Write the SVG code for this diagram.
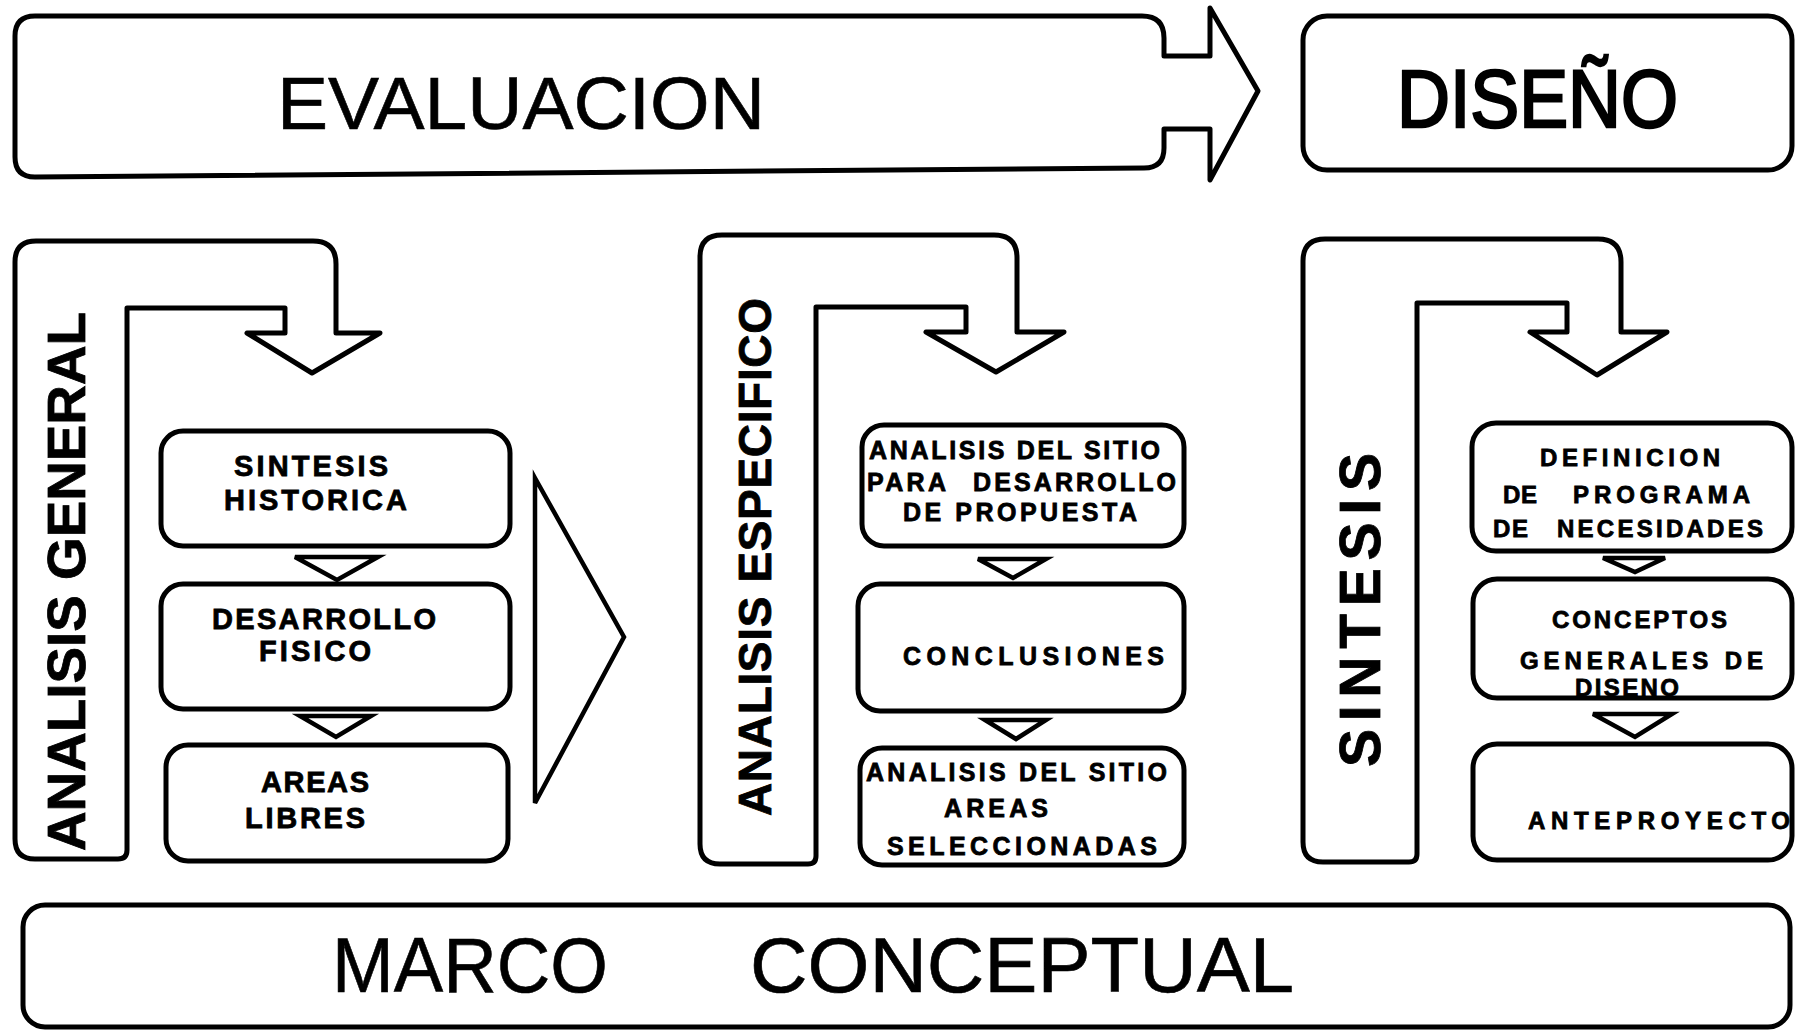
<svg xmlns="http://www.w3.org/2000/svg" width="1796" height="1031" viewBox="0 0 1796 1031">
<style>
.ln{fill:#fff;stroke:#000;stroke-width:5;stroke-linejoin:round}
.bx{fill:#fff;stroke:#000;stroke-width:5}
.ar{fill:#fff;stroke:#000;stroke-width:4.5;stroke-linejoin:miter}
.big{font-family:"Liberation Sans",Arial,Helvetica,sans-serif;font-weight:normal;fill:#000}
.b{font-family:"Liberation Sans",Arial,Helvetica,sans-serif;font-weight:bold;fill:#000;stroke:#000;stroke-width:0.8}
.c1{font-size:29px}
.c2{font-size:25px}
.c3{font-size:24px}
</style>
<rect x="0" y="0" width="1796" height="1031" fill="#fff"/>

<g id="evaluacion">
<path class="ln" d="M 35 16 H 1142 Q 1164 16 1164 38 V 56 H 1210 V 8 L 1258 91 L 1210 180 V 129 H 1164 V 148 Q 1164 168 1144 168 L 35 177 Q 15 177 15 157 V 36 Q 15 16 35 16 Z"/>
<text class="big" x="277" y="129" font-size="75" stroke="#000" stroke-width="0.6" textLength="488" lengthAdjust="spacingAndGlyphs">EVALUACION</text>
</g>

<g id="diseno">
<rect class="bx" x="1303" y="16" width="489" height="154" rx="24"/>
<text class="big" x="1397" y="127" font-size="81" stroke="#000" stroke-width="2.5" textLength="281" lengthAdjust="spacingAndGlyphs">DISEÑO</text>
</g>

<g id="analisis-general">
<path class="ln" d="M 15 262 Q 15 241 36 241 H 313 Q 336 241 336 264 V 333 H 380 L 312 373 L 247 333 H 285 V 308 H 127 V 850 Q 127 859 118 859 H 35 Q 15 859 15 839 Z"/>
<text class="b" font-size="53" transform="translate(85,851) rotate(-90)" textLength="539" lengthAdjust="spacingAndGlyphs">ANALISIS GENERAL</text>
</g>

<g id="sintesis-historica">
<rect class="bx" x="161" y="431" width="349" height="115" rx="22"/>
<text class="b c1" x="234" y="476" textLength="154" lengthAdjust="spacing">SINTESIS</text>
<text class="b c1" x="224" y="510" textLength="183" lengthAdjust="spacing">HISTORICA</text>
</g>
<g id="desarrollo-fisico">
<rect class="bx" x="161" y="584" width="349" height="125" rx="22"/>
<text class="b c1" x="212" y="629" textLength="224" lengthAdjust="spacing">DESARROLLO</text>
<text class="b c1" x="259" y="661" textLength="112" lengthAdjust="spacing">FISICO</text>
</g>
<g id="areas-libres">
<rect class="bx" x="166" y="745" width="342" height="116" rx="22"/>
<text class="b c1" x="261" y="792" textLength="108" lengthAdjust="spacing">AREAS</text>
<text class="b c1" x="245" y="828" textLength="120" lengthAdjust="spacing">LIBRES</text>
</g>

<g id="analisis-especifico">
<path class="ln" d="M 700 257 Q 700 235 722 235 H 994 Q 1017 235 1017 258 V 332 H 1064 L 996 372 L 926 332 H 966 V 307 H 816 V 856 Q 816 864 808 864 H 720 Q 700 864 700 844 Z"/>
<text class="b" font-size="46" stroke-width="1.2" transform="translate(771,816) rotate(-90)" textLength="518" lengthAdjust="spacing">ANALISIS ESPECIFICO</text>
</g>

<g id="analisis-sitio-propuesta">
<rect class="bx" x="862" y="425" width="322" height="121" rx="22"/>
<text class="b c2" x="869" y="459" textLength="291" lengthAdjust="spacing">ANALISIS DEL SITIO</text>
<text class="b c2" x="867" y="491" textLength="79" lengthAdjust="spacing">PARA</text>
<text class="b c2" x="973" y="491" textLength="203" lengthAdjust="spacing">DESARROLLO</text>
<text class="b c2" x="903" y="521" textLength="234" lengthAdjust="spacing">DE PROPUESTA</text>
</g>
<g id="conclusiones">
<rect class="bx" x="858" y="584" width="326" height="127" rx="22"/>
<text class="b c2" x="903" y="665" textLength="261" lengthAdjust="spacing">CONCLUSIONES</text>
</g>
<g id="analisis-sitio-areas">
<rect class="bx" x="860" y="748" width="324" height="117" rx="22"/>
<text class="b c2" x="866" y="781" textLength="301" lengthAdjust="spacing">ANALISIS DEL SITIO</text>
<text class="b c2" x="944" y="817" textLength="104" lengthAdjust="spacing">AREAS</text>
<text class="b c2" x="887" y="855" textLength="270" lengthAdjust="spacing">SELECCIONADAS</text>
</g>

<g id="sintesis">
<path class="ln" d="M 1303 261 Q 1303 239 1325 239 H 1598 Q 1621 239 1621 262 V 332 H 1667 L 1597 375 L 1530 332 H 1567 V 303 H 1417 V 854 Q 1417 862 1409 862 H 1323 Q 1303 862 1303 842 Z"/>
<text class="b" font-size="57" stroke-width="0" transform="translate(1380,767) rotate(-90)" textLength="314" lengthAdjust="spacing">SINTESIS</text>
</g>

<g id="definicion-programa">
<rect class="bx" x="1472" y="423" width="320" height="128" rx="24"/>
<text class="b c3" x="1540" y="466" textLength="180" lengthAdjust="spacing">DEFINICION</text>
<text class="b c3" x="1503" y="503" textLength="34" lengthAdjust="spacing">DE</text>
<text class="b c3" x="1573" y="503" textLength="177" lengthAdjust="spacing">PROGRAMA</text>
<text class="b c3" x="1493" y="537" textLength="35" lengthAdjust="spacing">DE</text>
<text class="b c3" x="1557" y="537" textLength="206" lengthAdjust="spacing">NECESIDADES</text>
</g>
<g id="conceptos-generales">
<rect class="bx" x="1473" y="579" width="319" height="119" rx="24"/>
<text class="b c3" x="1552" y="628" textLength="175" lengthAdjust="spacing">CONCEPTOS</text>
<text class="b c3" x="1520" y="669" textLength="243" lengthAdjust="spacing">GENERALES DE</text>
<text class="b c3" x="1575" y="696" textLength="104" lengthAdjust="spacing">DISENO</text>
</g>
<g id="anteproyecto">
<rect class="bx" x="1473" y="744" width="319" height="116" rx="24"/>
<text class="b c3" x="1528" y="829" textLength="262" lengthAdjust="spacing">ANTEPROYECTO</text>
</g>

<g id="marco-conceptual">
<rect class="bx" x="23" y="905" width="1767" height="122" rx="22"/>
<text class="big" x="332" y="992" font-size="77" stroke="#000" stroke-width="0.6" textLength="276" lengthAdjust="spacingAndGlyphs">MARCO</text>
<text class="big" x="750" y="992" font-size="77" stroke="#000" stroke-width="0.6" textLength="544" lengthAdjust="spacingAndGlyphs">CONCEPTUAL</text>
</g>

<g id="connectors">
<polygon class="ar" points="295,557 378,557 337,580"/>
<polygon class="ar" points="300,716 371,716 336,737"/>
<polygon class="ar" points="978,559 1046,559 1013,578"/>
<polygon class="ar" points="985,720 1046,720 1016,739"/>
<polygon class="ar" points="1603,558 1665,558 1635,572"/>
<polygon class="ar" points="1593,714 1672,714 1635,737"/>
<polygon class="ar" points="535,478 624,637 535,803"/>
</g>
</svg>
